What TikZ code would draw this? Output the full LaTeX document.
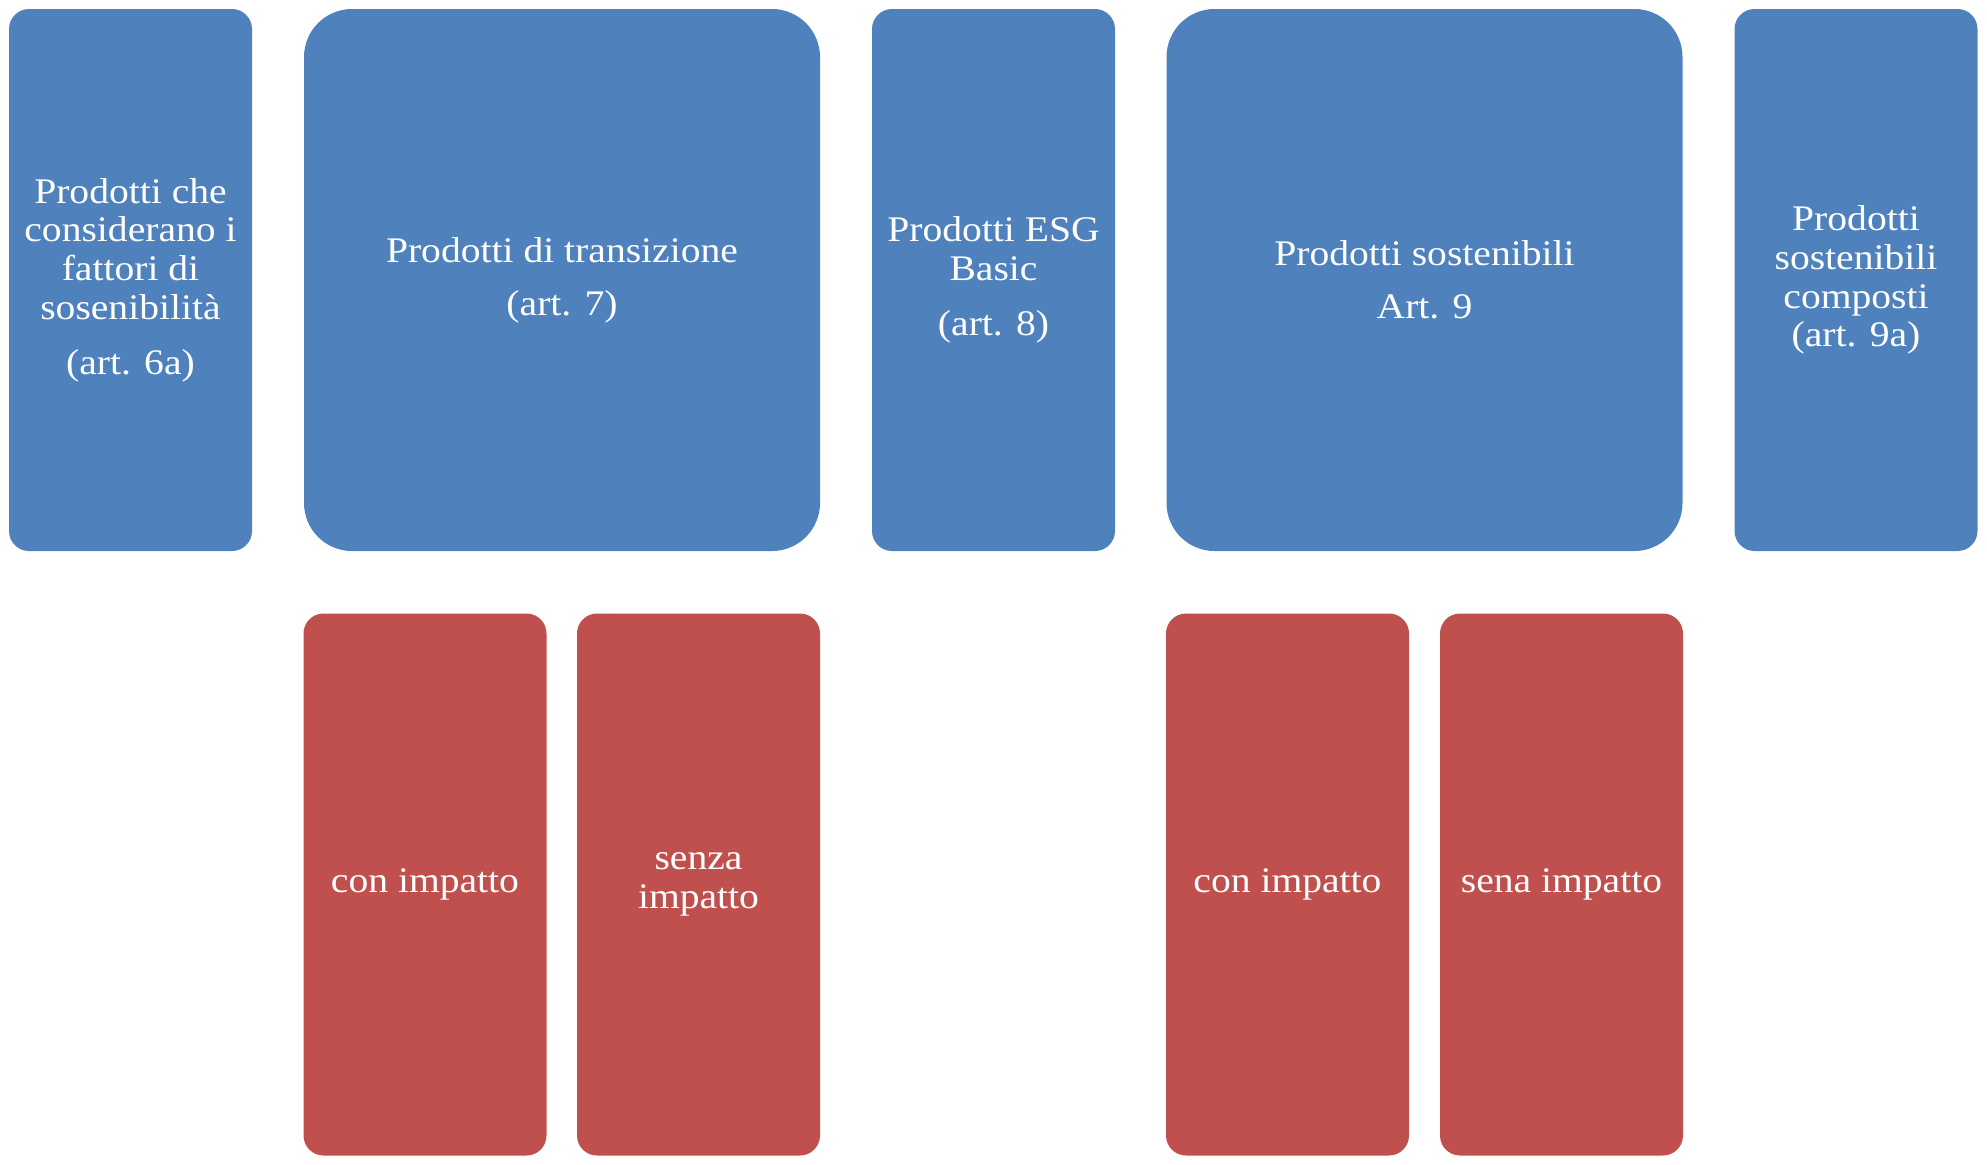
\documentclass[tikz,border=0pt]{standalone}
\usepackage{fontspec}
\setmainfont{Liberation Serif}[FakeStretch=1.1]
\usepackage{tikz}
\definecolor{artblue}{HTML}{4F81BD}
\definecolor{subred}{HTML}{C0504D}

\begin{document}
\begin{tikzpicture}[
      x=0.5pt,y=-0.5pt,
      card/.style={fill=artblue,text=white,align=center,inner sep=0pt,
        minimum width=121.5pt,minimum height=271pt,rounded corners=10pt,
        font=\fontsize{18}{19.4}\selectfont},
      widecard/.style={card,minimum width=258pt,rounded corners=24pt},
      subcard/.style={card,fill=subred}
      ]
      \useasboundingbox (0,0) rectangle (1987,1164);
      \node[card] (art6) at (130.5,280) {Prodotti che\\considerano i\\fattori di\\sosenibilità\\[8pt](art. 6a)};
      \node[widecard] (art7) at (562,280) {Prodotti di transizione\\[7pt](art. 7)};
      \node[card] (art8) at (993.5,280) {Prodotti ESG\\Basic\\[8pt](art. 8)};
      \node[widecard] (art9) at (1424.5,280) {Prodotti sostenibili\\[7pt]Art. 9};
      \node[card] (art9a) at (1856,280) {Prodotti\\sostenibili\\composti\\(art. 9a)};
      \node[subcard] (trcon) at (425,884.5) {con impatto};
      \node[subcard] (trsenza) at (698.5,884.5) {senza\\impatto};
      \node[subcard] (sucon) at (1287.5,884.5) {con impatto};
      \node[subcard] (susena) at (1561.5,884.5) {sena impatto};
    \end{tikzpicture}
\end{document}
